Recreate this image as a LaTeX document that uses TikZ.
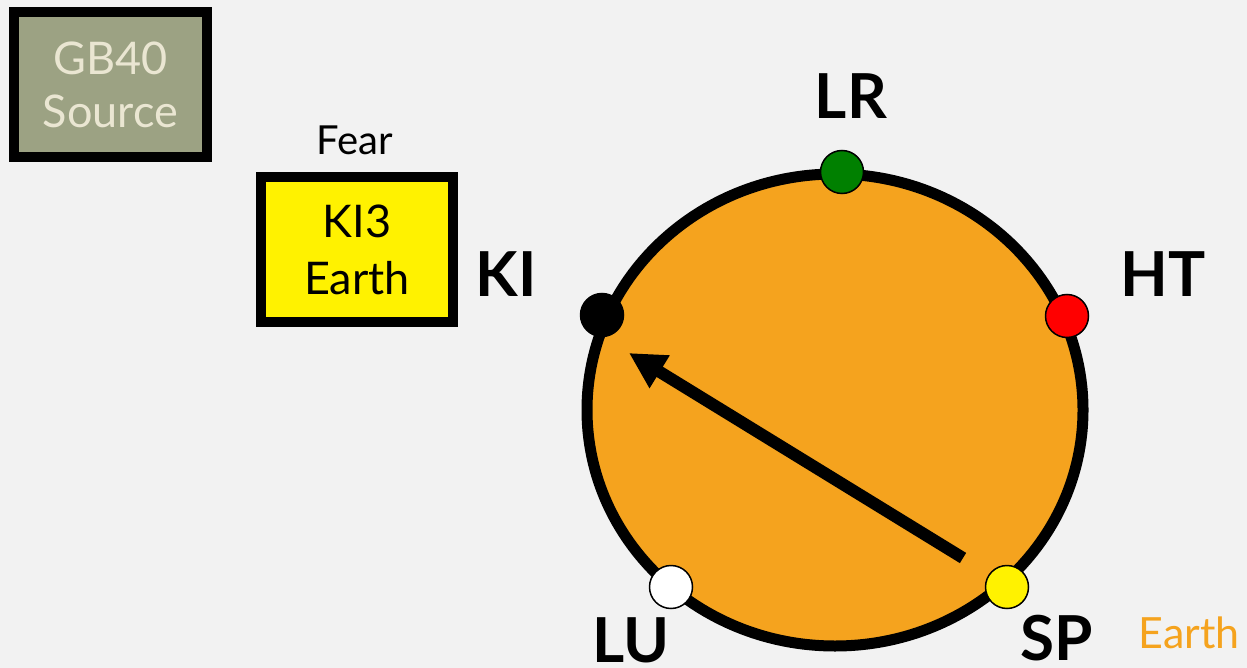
\documentclass[tikz,border=0pt]{standalone}
\usepackage{fontspec}
\setmainfont{Lato}
\usetikzlibrary{arrows.meta,shapes.geometric}
\definecolor{bg}{HTML}{F2F2F2}
\definecolor{earthor}{HTML}{F5A31E}
\definecolor{gbfill}{HTML}{9CA283}
\definecolor{gbtext}{HTML}{EAE6D2}
\definecolor{lrgreen}{HTML}{008000}
\tikzset{
  srcbox/.style={draw=black, line width=10pt, inner sep=0pt, align=center},
  dotnode/.style={circle, draw=black, line width=1.5pt, minimum size=43pt, inner sep=0pt},
  meridian/.style={font=\fontsize{62}{62}\selectfont\bfseries, anchor=base, inner sep=0pt},
  ring/.style={ellipse, draw=black, line width=11pt, fill=earthor, inner sep=0pt},
  flow/.style={line width=12pt, -{Triangle[length=36pt,width=36pt]}}
}
\begin{document}
\begin{tikzpicture}[x=1pt,y=-1pt]
\fill[bg] (0,0) rectangle (1247,668);
\useasboundingbox (0,0) rectangle (1247,668);
% source box
\node[srcbox, fill=gbfill, text=gbtext, minimum width=193pt, minimum height=145pt,
      font=\fontsize{45}{53}\selectfont] (gb) at (110.5,84.5) {GB40\\Source};
% KI3 box
\node[srcbox, fill=yellow, minimum width=192pt, minimum height=145pt,
      font=\fontsize{45}{57}\selectfont] (ki3) at (357,249.5) {KI3\\Earth};
\node[anchor=base, inner sep=0pt, font=\fontsize{40}{40}\selectfont] (fear) at (355,155) {Fear};
% circle
\node[ring, minimum width=496pt, minimum height=472pt] (circ) at (835,410) {};
% arrow
\coordinate (astart) at (963,558);
\coordinate (atip) at (629,353);
\draw[flow] (astart) -- (atip);
% dots
\node[dotnode, fill=lrgreen] (lr) at (842,172) {};
\node[dotnode, fill=red] (ht) at (1067,316) {};
\node[dotnode, fill=black] (ki) at (602,315) {};
\node[dotnode, fill=white] (lu) at (671,587) {};
\node[dotnode, fill=yellow] (sp) at (1007,587) {};
% labels
\node[meridian] (lrl) at (851,119) {LR};
\node[meridian] (htl) at (1163,297) {HT};
\node[meridian] (kil) at (506,297) {KI};
\node[meridian] (lul) at (631,662) {LU};
\node[meridian] (spl) at (1057,660) {SP};
\node[anchor=base, inner sep=0pt, text=earthor, font=\fontsize{43}{43}\selectfont] (earth) at (1189,648) {Earth};
\end{tikzpicture}
\end{document}
